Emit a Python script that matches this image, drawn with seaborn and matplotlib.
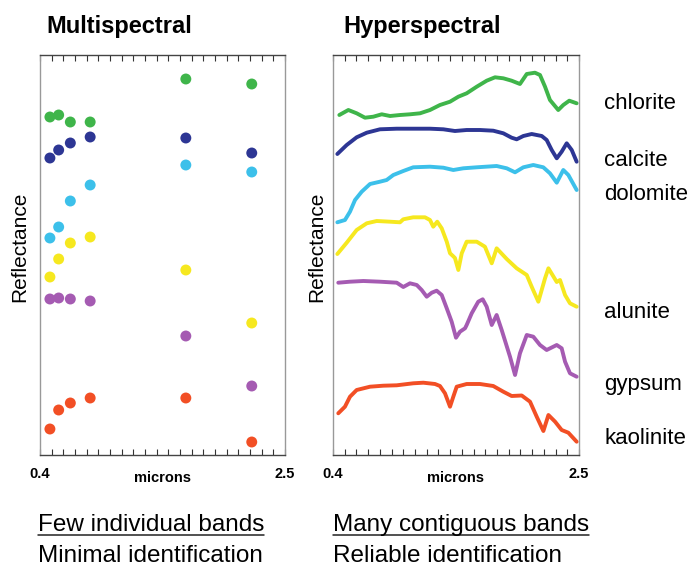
import numpy as np
import pandas as pd
import matplotlib
matplotlib.use("Agg")
import matplotlib.pyplot as plt
from matplotlib.lines import Line2D
import seaborn as sns

# ---------------------------------------------------------------- data
minerals = ["chlorite", "calcite", "dolomite", "alunite", "gypsum", "kaolinite"]
colors = ["#3fb54a", "#2d3694", "#3cc0ea", "#f6e81f", "#a55bb2", "#f24f25"]

# broad sensor band centres (microns)
bands = [0.485, 0.56, 0.66, 0.83, 1.65, 2.215]

# band-averaged reflectance, stacked with offsets (arbitrary units)
ms_chlorite = [338, 340, 333, 333, 376, 371]
ms_calcite = [297, 305, 312, 318, 317, 302]
ms_dolomite = [217, 228, 254, 270, 290, 283]
ms_alunite = [178, 196, 212, 218, 185, 132]
ms_gypsum = [156, 157, 156, 154, 119, 69]
ms_kaolinite = [26, 45, 52, 57, 57, 13]

# continuous spectra, stacked with offsets (arbitrary units)
wl_chlorite = [0.454, 0.531, 0.602, 0.673, 0.744, 0.816, 0.887, 0.972, 1.057, 1.143,
               1.228, 1.313, 1.399, 1.470, 1.541, 1.627, 1.712, 1.783, 1.854, 1.925,
               1.996, 2.054, 2.124, 2.167, 2.210, 2.252, 2.323, 2.366, 2.417, 2.480]
rf_chlorite = [340, 345, 341.7, 337.3, 338.3, 340.7, 339, 340, 340.7, 341.7,
               345, 350, 353.3, 358.3, 361.7, 368.3, 374.3, 377.7, 376.7, 374.3,
               371, 381, 382.3, 380, 368.3, 355, 345, 350, 354.3, 351.7]

wl_calcite = [0.437, 0.517, 0.602, 0.688, 0.801, 0.944, 1.085, 1.228, 1.342, 1.441,
              1.541, 1.655, 1.768, 1.854, 1.925, 1.968, 2.025, 2.096, 2.182, 2.224,
              2.267, 2.310, 2.352, 2.395, 2.438, 2.480]
rf_calcite = [301, 310, 317.7, 322.3, 325.7, 326.3, 326.3, 326.3, 325.7, 324,
              325, 325, 324.3, 321.7, 317.3, 315.7, 319, 321, 319, 315,
              305, 296.7, 303.3, 311.7, 305, 293.3]

wl_dolomite = [0.437, 0.502, 0.545, 0.588, 0.645, 0.716, 0.801, 0.858, 0.915, 1.000,
               1.085, 1.228, 1.342, 1.427, 1.512, 1.627, 1.797, 1.883, 1.954, 2.025,
               2.110, 2.195, 2.252, 2.310, 2.366, 2.409, 2.480]
rf_dolomite = [232.7, 235, 243.3, 255, 263.3, 271, 273.3, 275, 280, 284,
               287.7, 288.3, 287.3, 285, 286.7, 287.7, 289, 286.7, 282.7, 287.7,
               290, 287.7, 281.7, 272.3, 285, 280, 265]

wl_alunite = [0.437, 0.517, 0.602, 0.688, 0.773, 0.887, 0.972, 1.000, 1.085, 1.185,
              1.228, 1.256, 1.290, 1.328, 1.371, 1.399, 1.424, 1.441, 1.470, 1.499,
              1.541, 1.627, 1.697, 1.755, 1.797, 1.883, 1.968, 2.054, 2.096, 2.153,
              2.210, 2.239, 2.279, 2.310, 2.338, 2.381, 2.423, 2.480]
rf_alunite = [201, 212.3, 225, 231.7, 234, 233.3, 232.7, 235.7, 237.7, 237.7,
              235, 228.3, 233.3, 226.7, 213.3, 201.7, 199, 197, 185, 201.7,
              213.3, 213.3, 208.3, 191.7, 206.7, 196, 186.7, 180, 168.3, 153.3,
              176.7, 186.7, 179, 173, 175, 160, 151.7, 148.3]

wl_gypsum = [0.445, 0.545, 0.659, 0.801, 0.944, 1.000, 1.057, 1.115, 1.157, 1.200,
             1.243, 1.285, 1.328, 1.371, 1.413, 1.450, 1.484, 1.527, 1.541, 1.584,
             1.640, 1.678, 1.712, 1.755, 1.797, 1.840, 1.911, 1.954, 1.996, 2.054,
             2.110, 2.167, 2.224, 2.310, 2.352, 2.381, 2.423, 2.480]
rf_gypsum = [172.3, 173.3, 174, 173.3, 172.3, 168, 171.7, 170, 165, 158.3,
             162.3, 164.3, 160, 146.7, 133.3, 117.3, 123.3, 126.7, 130, 141.7,
             153.3, 155.7, 148.3, 130, 140, 125, 98.3, 80, 101.7, 120,
             118.3, 110, 105, 110, 106.7, 93.3, 81.7, 78.3]

wl_kaolinite = [0.445, 0.502, 0.545, 0.602, 0.716, 0.829, 0.944, 1.085, 1.171, 1.271,
                1.313, 1.356, 1.399, 1.427, 1.456, 1.541, 1.655, 1.768, 1.854, 1.925,
                2.011, 2.082, 2.139, 2.196, 2.239, 2.296, 2.352, 2.409, 2.480]
rf_kaolinite = [41.7, 48.3, 58.3, 65, 68.3, 69.3, 69.7, 71.7, 72.3, 71,
                69, 61.7, 48.3, 58.3, 68.3, 71, 71, 69, 63.3, 59,
                59.5, 53.3, 38.3, 24, 40, 33.3, 25, 22.3, 13.3]

x_ticks = [round(0.4 + 0.1 * i, 1) for i in range(22)]

# ---------------------------------------------------------------- tables
ms_values = [ms_chlorite, ms_calcite, ms_dolomite, ms_alunite, ms_gypsum, ms_kaolinite]
ms_df = pd.DataFrame({
    "microns": np.tile(bands, len(minerals)),
    "reflectance": np.concatenate(ms_values),
    "mineral": np.repeat(minerals, len(bands)),
})

hs_wl = [wl_chlorite, wl_calcite, wl_dolomite, wl_alunite, wl_gypsum, wl_kaolinite]
hs_rf = [rf_chlorite, rf_calcite, rf_dolomite, rf_alunite, rf_gypsum, rf_kaolinite]
hs_df = pd.concat([
    pd.DataFrame({"microns": w, "reflectance": r, "mineral": m})
    for m, w, r in zip(minerals, hs_wl, hs_rf)
], ignore_index=True)

palette = dict(zip(minerals, colors))

# ---------------------------------------------------------------- figure
sns.set_style("white")
plt.rcParams["font.family"] = ["Liberation Sans", "DejaVu Sans"]
plt.rcParams["text.color"] = "black"
plt.rcParams["axes.labelcolor"] = "black"
plt.rcParams["xtick.labelcolor"] = "black"

W, H = 690, 568
fig = plt.figure(figsize=(W / 100, H / 100), dpi=100)


def fx(x):
    return x / W


def fy(y):
    return 1 - y / H


ax1 = fig.add_axes([fx(40), fy(455), 245 / W, 400 / H])
ax2 = fig.add_axes([fx(333), fy(455), 246 / W, 400 / H])

sns.scatterplot(data=ms_df, x="microns", y="reflectance", hue="mineral",
                palette=palette, s=62, linewidth=0, legend=False, ax=ax1)
sns.lineplot(data=hs_df, x="microns", y="reflectance", hue="mineral",
             palette=palette, linewidth=2.8, estimator=None, sort=False,
             legend=False, ax=ax2)

tick_labels = [f"{t:.1f}" if t in (0.4, 2.5) else "" for t in x_ticks]

for ax, ylab_x in ((ax1, -0.082), (ax2, -0.067)):
    ax.set_xlim(0.4, 2.5)
    ax.set_ylim(0, 400)
    ax.set_xticks(x_ticks)
    ax.set_xticklabels(tick_labels, fontweight="bold", fontsize=10.5, color="black")
    ax.set_yticks([])
    ax.tick_params(axis="x", direction="in", top=True, bottom=True,
                   length=4, width=0.8, color="#333333", pad=9)
    for side in ("top", "bottom"):
        ax.spines[side].set_color("#444444")
        ax.spines[side].set_linewidth(1.0)
    for side in ("left", "right"):
        ax.spines[side].set_color("#999999")
        ax.spines[side].set_linewidth(1.0)
    ax.set_xlabel("microns", fontweight="bold", fontsize=10.5, color="black")
    ax.xaxis.label.set_va("center")
    ax.xaxis.set_label_coords(0.5, -0.057)
    ax.set_ylabel("Reflectance", fontsize=15, color="black")
    ax.yaxis.label.set_va("center")
    ax.yaxis.set_label_coords(ylab_x, 0.52)

# panel titles
fig.text(fx(46), fy(33), "Multispectral", fontsize=17, fontweight="bold",
         va="baseline", color="black")
fig.text(fx(343), fy(33), "Hyperspectral", fontsize=17, fontweight="bold",
         va="baseline", color="black")

# mineral names beside the spectra
label_baselines = [109, 166, 200, 318, 390, 444]
for name, yb in zip(minerals, label_baselines):
    fig.text(fx(604), fy(yb), name, fontsize=16, va="baseline", color="black")

# captions
cap_size = 17.5
cap_a = fig.text(fx(38), fy(531), "Few individual bands", fontsize=cap_size,
                 va="baseline", color="black")
cap_b = fig.text(fx(333), fy(531), "Many contiguous bands", fontsize=cap_size,
                 va="baseline", color="black")
fig.text(fx(38), fy(562), "Minimal identification", fontsize=cap_size,
         va="baseline", color="black")
fig.text(fx(333), fy(562), "Reliable identification", fontsize=cap_size,
         va="baseline", color="black")

# underline the first caption line
fig.canvas.draw()
renderer = fig.canvas.get_renderer()
for cap in (cap_a, cap_b):
    bb = cap.get_window_extent(renderer)
    y_line = fy(534.5)
    fig.add_artist(Line2D([bb.x0 / W, bb.x1 / W], [y_line, y_line],
                          transform=fig.transFigure, color="#222222", linewidth=1.1))

fig.savefig("out.png", dpi=100)
